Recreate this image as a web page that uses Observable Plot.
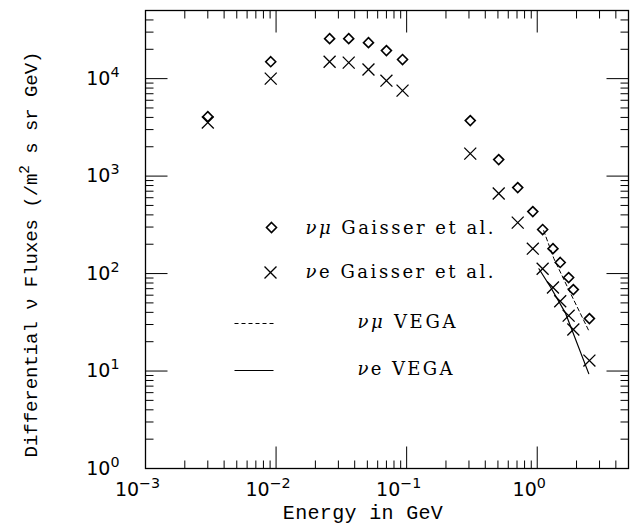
<!DOCTYPE html>
<html><head><meta charset="utf-8">
<script src="https://cdn.jsdelivr.net/npm/d3@7"></script>
<script src="https://cdn.jsdelivr.net/npm/@observablehq/plot@0.6"></script>
<style>body{margin:0;background:#fff}#chart{width:637px;height:529px}</style>
</head><body><div id="chart"></div>
<script>
// ---- data ----
const energy      = [0.0030, 0.0091, 0.0257, 0.036, 0.051, 0.070, 0.093, 0.307, 0.507, 0.709, 0.925, 1.10, 1.32, 1.50, 1.74, 1.89, 2.51];
const numuGaisser = [4075, 14900, 25700, 25700, 23400, 19400, 15700, 3710, 1476, 762, 432, 283, 180, 130, 91, 68.5, 34.5];
const nueGaisser  = [3540, 10000, 14900, 14600, 12400, 9530, 7530, 1700, 662, 333, 180, 112, 72, 52, 37, 26.7, 12.8];
const vegaNumuE   = [1.12, 1.34, 1.71, 2.48];
const vegaNumuF   = [276, 143, 72, 26];
const vegaNueE    = [1.03, 1.27, 1.65, 2.48];
const vegaNueF    = [112, 72, 39, 9.4];

const xMajor = [1e-3, 1e-2, 1e-1, 1];
const xTickLabels = ["10^{−3}", "10^{−2}", "10^{−1}", "10^{0}"];
const yMajor = [1, 10, 100, 1000, 10000];
const yTickLabels = ["10^{0}", "10^{1}", "10^{2}", "10^{3}", "10^{4}"];
const xTitle = "Energy in GeV";
const yTitle = "Differential ν Fluxes (/m^{2} s sr GeV)";
const legendLabels = ["*{νμ} Gaisser et al.", "*{ν}e Gaisser et al.", "*{νμ} VEGA", "*{ν}e VEGA"];

const xMinor = [];
for (const p of xMajor) for (let k = 2; k <= 9; k++) if (k * p < 5) xMinor.push(k * p);
const yMinor = [];
for (const p of yMajor) for (let k = 2; k <= 9; k++) if (k * p < 5e4) yMinor.push(k * p);

const gaisser = energy.map((e, i) => ({e, numu: numuGaisser[i], nue: nueGaisser[i]}));
const vegaNumu = vegaNumuE.map((e, i) => ({e, f: vegaNumuF[i]}));
const vegaNue = vegaNueE.map((e, i) => ({e, f: vegaNueF[i]}));

// text widths measured on the reference (px)
const fitWidth = new Map([
  [xTitle, 160], [yTitle, 406],
  [legendLabels[0], 188], [legendLabels[1], 188], [legendLabels[2], 98], [legendLabels[3], 95]
]);

// ---- helpers ----
const seg = (dx, dy) => ({draw(ctx) { ctx.moveTo(0, 0); ctx.lineTo(dx, dy); }});
const hseg = (w) => ({draw(ctx) { ctx.moveTo(-w / 2, 0); ctx.lineTo(w / 2, 0); }});
const tick = {stroke: "black", fill: "none", strokeWidth: 1};
const serif = "DejaVu Serif";
const mono = "Liberation Mono";
const sans = "DejaVu Sans";
const diamondStyle = {symbol: "diamond2", r: 4.5, stroke: "black", fill: "none", strokeWidth: 1.6};
const crossStyle = {symbol: "times", r: 5.5, stroke: "black", strokeWidth: 1.3};

const legendText = (label, dx, dy) => Plot.text([label], {
  frameAnchor: "top-left", dx, dy, text: d => d, textAnchor: "start", lineAnchor: "middle",
  fontFamily: serif, fontSize: 18, fill: "black"
});

const chart = Plot.plot({
  width: 637, height: 529,
  marginLeft: 145, marginRight: 9, marginTop: 10, marginBottom: 61,
  style: {background: "white", fontFamily: sans, fontSize: "18px", color: "black"},
  x: {type: "log", domain: [1e-3, 5], axis: null},
  y: {type: "log", domain: [1, 5e4], axis: null},
  marks: [
    // ticks (inward, all four sides)
    Plot.dotX(xMajor, {frameAnchor: "bottom", symbol: seg(0, -22), ...tick}),
    Plot.dotX(xMinor, {frameAnchor: "bottom", symbol: seg(0, -8), ...tick}),
    Plot.dotX(xMajor, {frameAnchor: "top", symbol: seg(0, 22), ...tick}),
    Plot.dotX(xMinor, {frameAnchor: "top", symbol: seg(0, 8), ...tick}),
    Plot.dotY(yMajor, {frameAnchor: "left", symbol: seg(22, 0), ...tick}),
    Plot.dotY(yMinor, {frameAnchor: "left", symbol: seg(8, 0), ...tick}),
    Plot.dotY(yMajor, {frameAnchor: "right", symbol: seg(-22, 0), ...tick}),
    Plot.dotY(yMinor, {frameAnchor: "right", symbol: seg(-8, 0), ...tick}),
    Plot.frame({stroke: "black", strokeWidth: 1.3}),
    // tick labels
    Plot.text(xMajor, {x: d => d, frameAnchor: "bottom", text: (d, i) => xTickLabels[i],
      dy: 27, dx: -8, textAnchor: "middle", lineAnchor: "bottom", fontFamily: sans, fontSize: 19, fill: "black"}),
    Plot.text(yMajor, {y: d => d, frameAnchor: "left", text: (d, i) => yTickLabels[i],
      dx: -26, textAnchor: "end", lineAnchor: "middle", fontFamily: sans, fontSize: 19, fill: "black"}),
    // titles
    Plot.text([xTitle], {frameAnchor: "bottom", text: d => d, dy: 50, dx: -24, textAnchor: "middle", lineAnchor: "bottom",
      fontFamily: mono, fontSize: 20, fill: "black"}),
    Plot.text([yTitle], {frameAnchor: "left", text: d => d, rotate: -90, dx: -115, dy: 15,
      textAnchor: "middle", lineAnchor: "middle", fontFamily: mono, fontSize: 19, fill: "black"}),
    // data
    Plot.line(vegaNumu, {x: "e", y: "f", stroke: "black", strokeWidth: 1, strokeDasharray: "4,3"}),
    Plot.line(vegaNue, {x: "e", y: "f", stroke: "black", strokeWidth: 1.2}),
    Plot.dot(gaisser, {x: "e", y: "numu", ...diamondStyle}),
    Plot.dot(gaisser, {x: "e", y: "nue", ...crossStyle}),
    // legend
    Plot.dot([0], {frameAnchor: "top-left", dx: 126, dy: 217, ...diamondStyle}),
    legendText(legendLabels[0], 160, 218),
    Plot.dot([0], {frameAnchor: "top-left", dx: 125, dy: 262, ...crossStyle}),
    legendText(legendLabels[1], 160, 262),
    Plot.dot([0], {frameAnchor: "top-left", dx: 108.5, dy: 313, symbol: hseg(39), stroke: "black", fill: "none", strokeWidth: 1, strokeDasharray: "4,3"}),
    legendText(legendLabels[2], 212, 312),
    Plot.dot([0], {frameAnchor: "top-left", dx: 108.5, dy: 360, symbol: hseg(39), stroke: "black", fill: "none", strokeWidth: 1.2}),
    legendText(legendLabels[3], 212, 359)
  ]
});
document.getElementById("chart").appendChild(chart);

// simple markup: ^{..} superscript, *{..} italic; then stretch letter spacing to the reference widths
const NS = "http://www.w3.org/2000/svg";
for (const t of chart.querySelectorAll("text")) {
  const s = t.textContent;
  const target = fitWidth.get(s);
  if (/[\^*]\{/.test(s)) {
    const fs = parseFloat(getComputedStyle(t).fontSize) || 18;
    t.textContent = "";
    let raised = 0;
    for (const p of s.split(/(\^\{[^}]*\}|\*\{[^}]*\})/).filter(p => p)) {
      const ts = document.createElementNS(NS, "tspan");
      if (p.startsWith("^{")) {
        ts.textContent = p.slice(2, -1);
        ts.setAttribute("font-size", fs * 0.75);
        ts.setAttribute("dy", -fs * 0.42);
        raised = fs * 0.42;
      } else {
        if (p.startsWith("*{")) { ts.textContent = p.slice(2, -1); ts.setAttribute("font-style", "italic"); }
        else ts.textContent = p;
        if (raised) { ts.setAttribute("dy", raised); raised = 0; }
      }
      t.appendChild(ts);
    }
  }
  if (target) {
    const natural = t.getComputedTextLength();
    const n = t.textContent.length;
    if (natural > 0 && n > 1) t.style.letterSpacing = ((target - natural) / (n - 1)).toFixed(2) + "px";
  }
}
</script>
</body></html>
